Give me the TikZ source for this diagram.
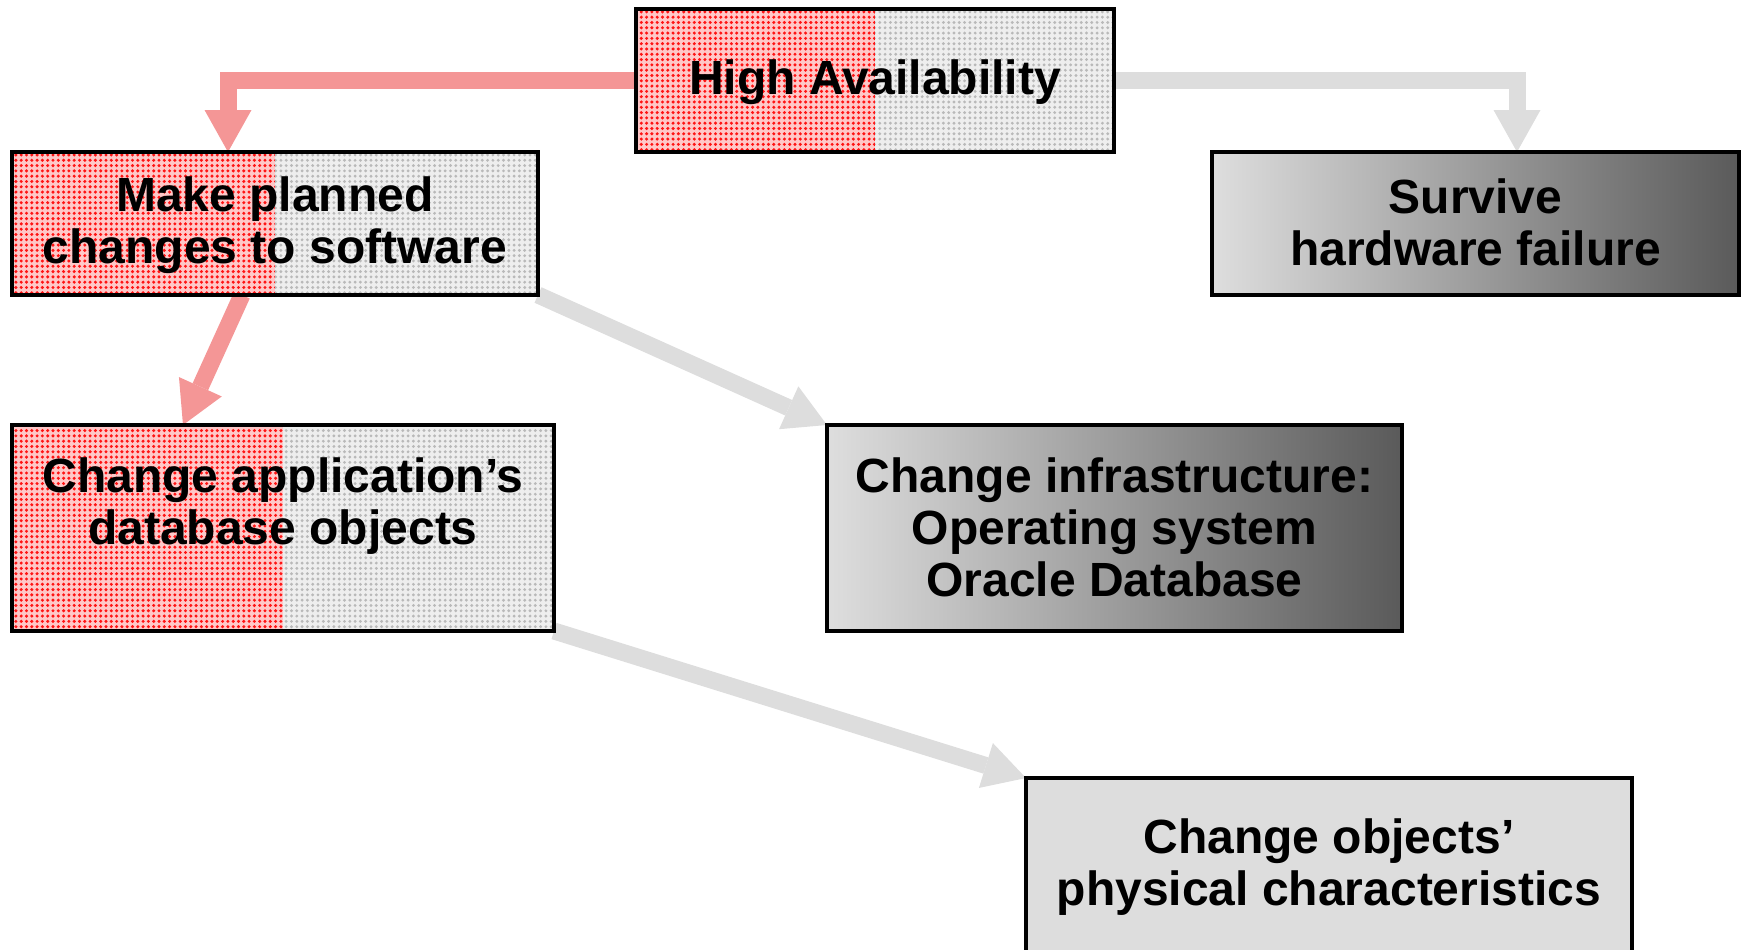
\documentclass[tikz,border=0pt]{standalone}
\usepackage{fontspec}
\setmainfont{Liberation Sans}
\usetikzlibrary{arrows.meta,patterns.meta,backgrounds}
\definecolor{redbase}{RGB}{255,200,200}
\definecolor{reddot}{RGB}{255,20,20}
\definecolor{graybase}{RGB}{238,238,238}
\definecolor{graydot}{RGB}{185,185,185}
\definecolor{redarrow}{RGB}{244,150,150}
\definecolor{grayarrow}{RGB}{221,221,221}
\definecolor{gradL}{RGB}{222,222,222}
\definecolor{gradR}{RGB}{90,90,90}
\definecolor{flatgray}{RGB}{221,221,221}
\newcommand\lnstrut{\rule[-6.5pt]{0pt}{45.5pt}}
\begin{document}
\begin{tikzpicture}[x=1pt,y=-1pt,
  box/.style={draw=black, line width=4pt, inner sep=0pt, outer sep=0pt, align=center,
    font=\fontsize{48}{52}\selectfont\bfseries},
  split/.style={path picture={
     \fill[redbase] (path picture bounding box.north west) rectangle (path picture bounding box.south);
     \fill[pattern={Dots[radius=1.7pt,distance=5.3pt]}, pattern color=reddot]
        (path picture bounding box.north west) rectangle (path picture bounding box.south);
     \fill[graybase] (path picture bounding box.north) rectangle (path picture bounding box.south east);
     \fill[pattern={Dots[radius=1.6pt,distance=5.3pt]}, pattern color=graydot]
        (path picture bounding box.north) rectangle (path picture bounding box.south east);
  }},
  grad/.style={left color=gradL, right color=gradR},
  flat/.style={fill=flatgray},
  redarr/.style={draw=redarrow, line width=17pt, line join=miter,
    -{Triangle[length=42pt,width=47pt,line width=0pt]}},
  grayarr/.style={redarr, draw=grayarrow}
]
\useasboundingbox (0,0) rectangle (1743,950);
\clip (0,0) rectangle (1743,950);

\node[box, split, minimum width=478pt, minimum height=143pt] (ha) at (875,80.5)
  {\lnstrut High Availability};
\node[box, split, minimum width=526pt, minimum height=143pt] (mp) at (275,223.5)
  {\lnstrut Make planned\\\lnstrut changes to software};
\node[box, grad, minimum width=527pt, minimum height=143pt] (sv) at (1475.5,223.5)
  {\lnstrut Survive\\\lnstrut hardware failure};
\node[box, split, minimum width=542pt, minimum height=206pt] (ca) at (283,528)
  {\lnstrut Change application’s\\\lnstrut database objects\\\lnstrut};
\node[box, grad, minimum width=575pt, minimum height=206pt] (inf) at (1114.5,528)
  {\lnstrut Change infrastructure:\\\lnstrut Operating system\\\lnstrut Oracle Database};
\node[box, flat, minimum width=606pt, minimum height=222pt] (co) at (1329,889)
  {\lnstrut Change objects’\\\lnstrut physical characteristics\\\lnstrut};

\begin{scope}[on background layer]
\draw[redarr] (ha.west) -| ([xshift=-47pt]mp.north);
\draw[grayarr] (ha.east) -| ([xshift=41.5pt]sv.north);
\draw[redarr] ([xshift=-33pt]mp.south) -- ([xshift=-100pt]ca.north);
\draw[grayarr] (mp.south east) -- (inf.north west);
\draw[grayarr] (ca.south east) -- (co.north west);
\end{scope}
\end{tikzpicture}
\end{document}
